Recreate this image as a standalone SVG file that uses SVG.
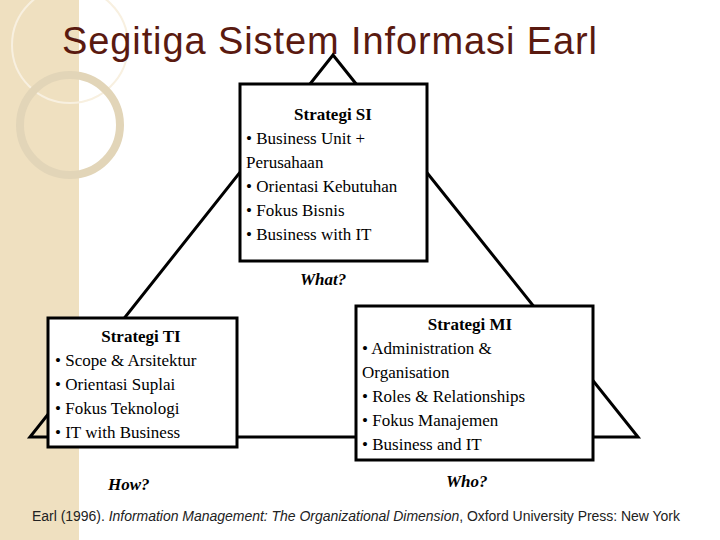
<svg xmlns="http://www.w3.org/2000/svg" width="720" height="540" viewBox="0 0 720 540">
<style>
.box{fill:#fff;stroke:#000;stroke-width:3}
.t{font-family:"Liberation Serif",serif;font-size:17px;fill:#000}
.h{font-weight:bold;text-anchor:middle}
.q{font-family:"Liberation Serif",serif;font-size:17px;font-weight:bold;font-style:italic}
</style>
<rect width="720" height="540" fill="#fff"/>
<rect x="0" y="0" width="79" height="540" fill="#efe0c0"/>
<circle cx="70" cy="45" r="58" fill="none" stroke="#f8f0e0" stroke-width="2"/>
<circle cx="70" cy="125" r="50" fill="none" stroke="#e2d5b8" stroke-width="8"/>
<text x="62" y="54" font-family="Liberation Sans,Arial,sans-serif" font-size="38" fill="#5a1a10" textLength="535">Segitiga Sistem Informasi Earl</text>
<g id="connectors">
<polygon points="333,55 30,437 638,437" fill="none" stroke="#000" stroke-width="3"/>
</g>
<g id="si">
<rect class="box" x="240" y="84" width="187" height="177"/>
<text class="t h" x="333" y="120">Strategi SI</text>
<text class="t" x="246" y="144">• Business Unit +</text>
<text class="t" x="246" y="168">Perusahaan</text>
<text class="t" x="246" y="192">• Orientasi Kebutuhan</text>
<text class="t" x="246" y="216">• Fokus Bisnis</text>
<text class="t" x="246" y="240">• Business with IT</text>
</g>
<g id="ti">
<rect class="box" x="48" y="318" width="189" height="129"/>
<text class="t h" x="141" y="342">Strategi TI</text>
<text class="t" x="55" y="366">• Scope &amp; Arsitektur</text>
<text class="t" x="55" y="390">• Orientasi Suplai</text>
<text class="t" x="55" y="414">• Fokus Teknologi</text>
<text class="t" x="55" y="438">• IT with Business</text>
</g>
<g id="mi">
<rect class="box" x="356" y="306" width="237" height="154"/>
<text class="t h" x="470" y="330">Strategi MI</text>
<text class="t" x="362" y="354">• Administration &amp;</text>
<text class="t" x="362" y="378">Organisation</text>
<text class="t" x="362" y="402">• Roles &amp; Relationships</text>
<text class="t" x="362" y="426">• Fokus Manajemen</text>
<text class="t" x="362" y="450">• Business and IT</text>
</g>
<text class="q" x="300" y="285">What?</text>
<text class="q" x="108" y="490">How?</text>
<text class="q" x="446" y="487">Who?</text>
<text x="32" y="521" font-family="Liberation Sans,Arial,sans-serif" font-size="14" fill="#222" textLength="648">Earl (1996). <tspan font-style="italic">Information Management: The Organizational Dimension</tspan>, Oxford University Press: New York</text>
</svg>
